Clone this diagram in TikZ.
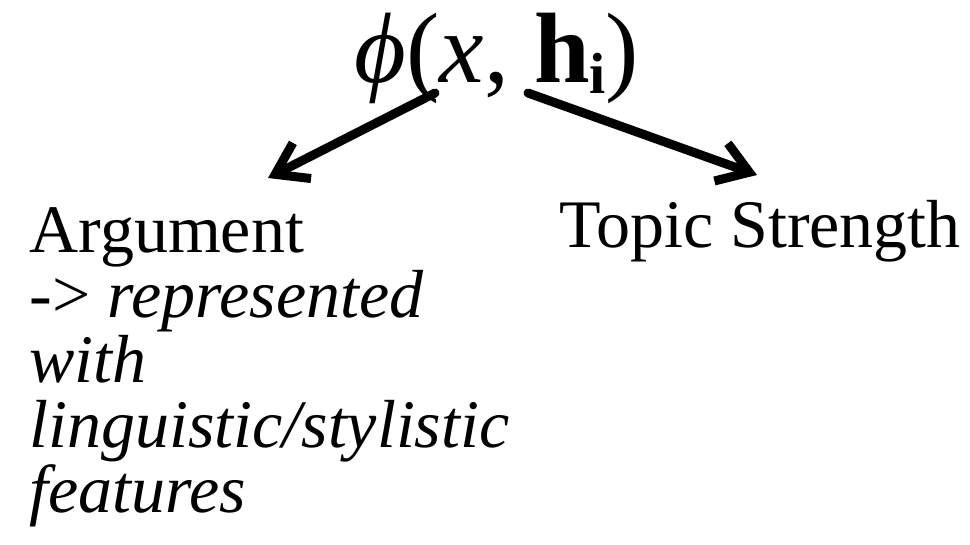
\documentclass[tikz,border=0pt]{standalone}
\usepackage{fix-cm}
\usepackage{amssymb,amsmath}
\usepackage{fontspec}
\setmainfont{Liberation Serif}
\usetikzlibrary{arrows.meta}

\begin{document}
\begin{tikzpicture}[x=1pt,y=-1pt,->,>={Straight Barb[length=30pt,width=40pt]},
        line width=9pt,line cap=round,
        word/.style={inner sep=0,font=\fontsize{68}{65}\selectfont,align=left}]
        \useasboundingbox (0,0) rectangle (970,544);
        \node[inner sep=0,anchor=base,font=\fontsize{100}{100}\selectfont]  (0) at (497,82)
          {\textit{\symbol{"03D5}}(\textit{x}, \textbf{h}\raisebox{-11pt}{\fontsize{58}{58}\selectfont\bfseries i})};
        \node[word,anchor=base west]  (1) at (25,512) {Argument\\-> \textit{represented}\\\textit{with}\\\textit{linguistic/stylistic}\\\textit{features}};
        \node[word,anchor=base west]  (2) at (555,247) {Topic Strength};
        \coordinate (0l) at (435,93);
        \coordinate (0r) at (528,93);
        \coordinate (1t) at (268,178);
        \coordinate (2t) at (757,175);
        \path
          (0l) edge (1t)
          (0r) edge (2t)
          ;
      \end{tikzpicture}
\end{document}
